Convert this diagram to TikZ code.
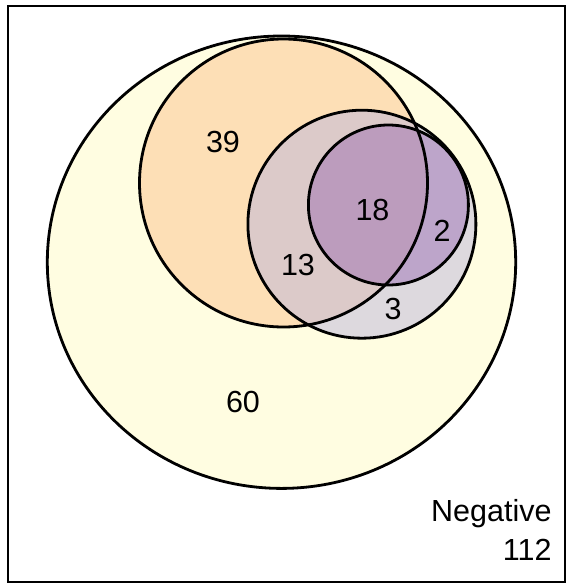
\documentclass[tikz,border=0pt]{standalone}
\usepackage{fontspec}
\setmainfont{Liberation Sans}
\usetikzlibrary{positioning}
\definecolor{vennyellow}{RGB}{255,253,225}
\definecolor{vennorange}{RGB}{253,223,182}
\definecolor{vennlilac}{RGB}{189,183,221}
\definecolor{vennpurple}{RGB}{142,88,173}

\begin{document}
\begin{tikzpicture}[
    x=1pt, y=-1pt,
    ring/.style={draw=black, line width=2.8pt},
    count/.style={font=\fontsize{30.5}{35}\selectfont, inner sep=0pt},
]
    \useasboundingbox (0,0) rectangle (567,584);
    \draw[line width=2pt] (7.5,6) rectangle (565,582);

    % fills, back to front
    \fill[vennyellow] (281.5,262.2) ellipse [x radius=234.2, y radius=226.2];
    \fill[vennorange] (283.5,183) circle [radius=144];
    \fill[vennlilac, fill opacity=0.5] (361.9,224.2) circle [radius=114];
    \fill[vennpurple, fill opacity=0.4] (388.4,205) circle [radius=80];

    % outlines
    \draw[ring] (281.5,262.2) ellipse [x radius=234.2, y radius=226.2];
    \draw[ring] (283.5,183) circle [radius=144];
    \draw[ring] (361.9,224.2) circle [radius=114];
    \draw[ring] (388.4,205) circle [radius=80];

    % region counts
    \node[count] (orangeonly) at (223,141.5) {39};
    \node[count] (core) at (372.5,210) {18};
    \node[count] (purplerim) at (442,231) {2};
    \node[count] (lilacorange) at (298,265) {13};
    \node[count] (lilaconly) at (393,309) {3};
    \node[count] (yellowonly) at (243,402) {60};

    % outside all sets
    \node[count, anchor=base east] (neg) at (551.7,521.7) {Negative};
    \node[count, anchor=base east] (negcount) at (551.7,560) {112};
\end{tikzpicture}
\end{document}
